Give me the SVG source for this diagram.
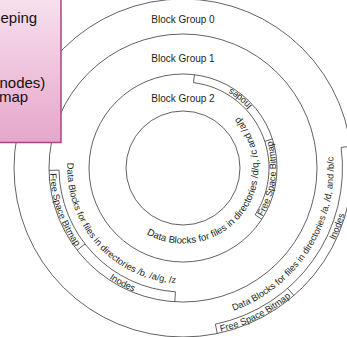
<svg xmlns="http://www.w3.org/2000/svg" xmlns:xlink="http://www.w3.org/1999/xlink" width="347" height="337" viewBox="0 0 347 337">
<style>
.ln{fill:none;stroke:#3a3a3a;stroke-width:0.8}
.rt{font-family:"Liberation Sans",Arial,sans-serif;font-size:9.2px;fill:#231f20}
.rb{font-size:9.7px}
.bg{font-family:"Liberation Sans",Arial,sans-serif;font-size:10px;fill:#231f20;text-anchor:middle}
.ct{font-family:"Liberation Sans",Arial,sans-serif;font-size:15px;fill:#111}
</style>
<defs>
<linearGradient id="pink" x1="0" y1="0" x2="0" y2="1">
<stop offset="0" stop-color="#f7e1ee"/>
<stop offset="1" stop-color="#e6a6ca"/>
</linearGradient>
<path id="p1" d="M122.71,122.56 A75.5,75.5 0 1 0 124.33,120.49"/>
<path id="p2" d="M267.13,88.86 A115.5,115.5 0 1 0 269.83,91.85"/>
<path id="p3" d="M54.45,88.75 A151,151 0 1 0 57.31,84.33"/>
<path id="p4" d="M125.11,240.78 A93,93 0 1 0 122.61,238.72"/>
<path id="p5" d="M90.60,157.47 A93,93 0 1 0 91.02,154.25"/>
<path id="p6" d="M307.66,121.64 A133,133 0 1 0 309.20,126.02"/>
<path id="p7" d="M242.97,49.29 A133,133 0 1 0 247.07,51.45"/>
<path id="p8" d="M24.93,111.09 A168,168 0 1 0 27.01,105.61"/>
<path id="p9" d="M105.69,18.85 A168,168 0 1 0 110.94,16.24"/>
</defs>
<rect width="347" height="337" fill="#fff"/>
<g id="connectors">
<circle class="ln" cx="183" cy="168" r="57"/>
<circle class="ln" cx="183" cy="168" r="94"/>
<circle class="ln" cx="183" cy="168" r="134"/>
<circle class="ln" cx="183" cy="168" r="169"/>
</g>
<g id="bg2-strip">
<path class="ln" d="M261.84,219.19 L255.13,214.84 A86,86 0 0 0 193.48,82.64 L194.46,74.70 M264.79,141.43 L272.40,138.95"/>
<text class="rt"><textPath xlink:href="#p4" startOffset="50%" text-anchor="middle">Inodes</textPath></text>
<text class="rt"><textPath xlink:href="#p5" startOffset="50%" text-anchor="middle">Free Space Bitmap</textPath></text>
</g>
<g id="bg1-strip">
<path class="ln" d="M49.02,170.34 L59.02,170.16 A124,124 0 0 0 175.43,291.77 L174.82,301.75 M85.01,244.0 L77.11,250.13"/>
<text class="rt"><textPath xlink:href="#p6" startOffset="50%" text-anchor="middle">Free Space Bitmap</textPath></text>
<text class="rt"><textPath xlink:href="#p7" startOffset="50%" text-anchor="middle">Inodes</textPath></text>
</g>
<g id="bg0-strip">
<path class="ln" d="M217.27,333.48 L215.35,324.18 A159.5,159.5 0 0 0 341.17,147.46 L350.59,146.23 M287.64,288.37 L293.88,295.54"/>
<text class="rt"><textPath xlink:href="#p8" startOffset="50%" text-anchor="middle">Inodes</textPath></text>
<text class="rt"><textPath xlink:href="#p9" startOffset="50%" text-anchor="middle">Free Space Bitmap</textPath></text>
</g>
<g id="bg2-data">
<text class="rt rb"><textPath xlink:href="#p1" startOffset="50%" text-anchor="middle">Data Blocks for files in directories /d/q, /c and /a/p</textPath></text>
</g>
<g id="bg1-data">
<text class="rt"><textPath xlink:href="#p2" startOffset="50%" text-anchor="middle">Data Blocks for files in directories /b, /a/g, /z</textPath></text>
</g>
<g id="bg0-data">
<text class="rt"><textPath xlink:href="#p3" startOffset="50%" text-anchor="middle">Data Blocks for files in directories /a, /d, and /b/c</textPath></text>
</g>
<g id="labels">
<text class="bg" x="183" y="23">Block Group 0</text>
<text class="bg" x="183" y="62">Block Group 1</text>
<text class="bg" x="183" y="102">Block Group 2</text>
</g>
<g id="callout">
<rect x="-3" y="-3" width="64" height="145.5" fill="url(#pink)" stroke="#a8458a" stroke-width="1.5"/>
<text class="ct" x="0.5" y="23">eping</text>
<text class="ct" x="-0.5" y="88">nodes)</text>
<text class="ct" x="-1" y="102">map</text>
</g>
</svg>
